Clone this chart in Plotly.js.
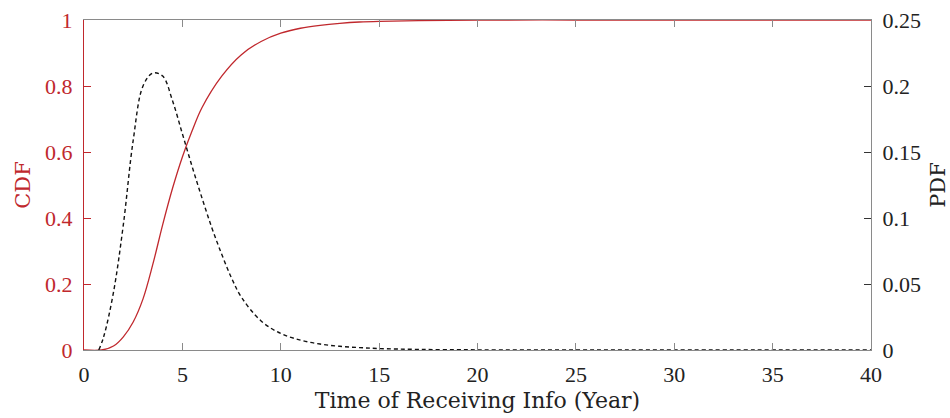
<!DOCTYPE html>
<html>
<head>
<meta charset="utf-8">
<script src="https://cdn.plot.ly/plotly-3.0.1.min.js"></script>
<style>html,body{margin:0;padding:0;background:#fff}#chart{width:950px;height:418px}</style>
</head>
<body>
<div id="chart"></div>
<script>
// CDF (left axis)
const cdfX = [0, 0.9, 1.5, 2, 2.5, 3, 3.5, 4, 4.5, 5, 5.5, 6, 7, 8, 9, 10, 11, 12, 13, 14, 15, 17, 20, 25, 30, 40];
const cdfY = [0, 0, 0.012, 0.04, 0.085, 0.155, 0.26, 0.38, 0.49, 0.585, 0.665, 0.735, 0.83, 0.895, 0.935, 0.96, 0.975, 0.984, 0.99, 0.994, 0.996, 0.998, 1, 1, 1, 1];
// PDF (right axis)
const pdfX = [0.75, 1.0, 1.5, 2.0, 2.5, 3.0, 3.5, 4.0, 4.5, 5.0, 5.5, 6.0, 6.5, 7.0, 7.5, 8.0, 9, 10, 11, 12, 13, 14, 15, 17, 20, 25, 30, 40];
const pdfY = [0, 0.01, 0.0438, 0.095, 0.1588, 0.2, 0.2098, 0.2075, 0.1888, 0.1638, 0.1388, 0.115, 0.0925, 0.0725, 0.0545, 0.04, 0.022, 0.0125, 0.0075, 0.0045, 0.0028, 0.0018, 0.0011, 0.00045, 0.000125, 0, 0, 0];

const xTicks = [0, 5, 10, 15, 20, 25, 30, 35, 40];
const cdfTicks = [0, 0.2, 0.4, 0.6, 0.8, 1];
const cdfTickText = ['0', '0.2', '0.4', '0.6', '0.8', '1'];
const pdfTicks = [0, 0.05, 0.1, 0.15, 0.2, 0.25];
const pdfTickText = ['0', '0.05', '0.1', '0.15', '0.2', '0.25'];

const RED = '#c0282d';
const GRAY = '#8a8a8a';
const FONT = 'Liberation Serif, Times New Roman, serif';
const TFONT = 'DejaVu Serif, serif';

const traces = [
  {x: cdfX, y: cdfY, type: 'scatter', mode: 'lines', yaxis: 'y',
   line: {color: RED, width: 1.3, shape: 'spline', smoothing: 1}, hoverinfo: 'skip'},
  {x: pdfX, y: pdfY, type: 'scatter', mode: 'lines', yaxis: 'y2',
   line: {color: '#111', width: 1.4, dash: '4px,3px', shape: 'spline', smoothing: 1}, hoverinfo: 'skip'}
];

const layout = {
  width: 950, height: 418,
  margin: {l: 84, r: 79, t: 20, b: 68},
  paper_bgcolor: '#fff', plot_bgcolor: '#fff',
  showlegend: false,
  font: {family: FONT, size: 21, color: '#222'},
  xaxis: {
    range: [0, 40], tickvals: xTicks, ticktext: xTicks.map(String),
    showgrid: false, zeroline: false,
    showline: true, linecolor: GRAY, linewidth: 1.2, mirror: 'ticks',
    ticks: 'inside', ticklen: 7, tickcolor: GRAY, tickwidth: 1,
    ticklabelstandoff: 4,
    tickfont: {family: FONT, size: 22, color: '#222'},
    title: {text: 'Time of Receiving Info (Year)', font: {family: TFONT, size: 22, color: '#222'}, standoff: 7}
  },
  yaxis: {
    range: [0, 1], tickvals: cdfTicks, ticktext: cdfTickText,
    showgrid: false, zeroline: false,
    showline: true, linecolor: RED, linewidth: 1.2,
    ticks: 'inside', ticklen: 7, tickcolor: RED, tickwidth: 1,
    ticklabelstandoff: 6,
    tickfont: {family: FONT, size: 22, color: RED},
    title: {text: 'CDF', font: {family: TFONT, size: 21, color: RED}, standoff: 8}
  },
  yaxis2: {
    range: [0, 0.25], tickvals: pdfTicks, ticktext: pdfTickText,
    overlaying: 'y', side: 'right', anchor: 'x',
    showgrid: false, zeroline: false,
    showline: true, linecolor: GRAY, linewidth: 1.2,
    ticks: 'inside', ticklen: 7, tickcolor: '#333', tickwidth: 1,
    ticklabelstandoff: 6,
    tickfont: {family: FONT, size: 22, color: '#222'},
    title: {text: 'PDF', font: {family: TFONT, size: 21, color: '#222'}, standoff: 13}
  }
};

Plotly.newPlot('chart', traces, layout, {displayModeBar: false, staticPlot: true});
</script>
</body>
</html>
